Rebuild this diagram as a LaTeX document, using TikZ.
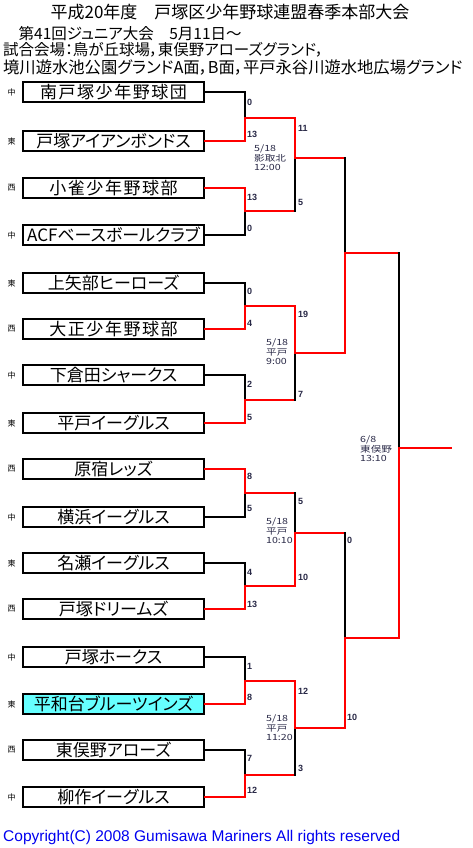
\documentclass[tikz,border=0pt]{standalone}
\usepackage{graphicx}
\usepackage{fontspec}
\setmainfont{Liberation Sans}
\newfontfamily\jp[RawFeature=+palt]{Noto Sans CJK JP}
\newfontfamily\jpw[RawFeature=+palt,LetterSpace=9]{Noto Sans CJK JP}
\newfontfamily\jpm{Noto Sans CJK JP}
\newfontfamily\arial{Liberation Sans}
\definecolor{scorecol}{RGB}{40,40,70}
\definecolor{tcyan}{RGB}{102,255,255}
\definecolor{copyblue}{RGB}{0,0,240}
\newcommand\infotext[3]{\scalebox{1.25}[1]{\begin{tabular}{@{}l@{}}#1\\#2\\#3\end{tabular}}}
\begin{document}
\begin{tikzpicture}[x=1pt,y=-1pt,
  team/.style={draw=black,line width=1.8pt,fill=white,minimum width=181pt,minimum height=20pt,inner sep=0pt,font=\jp\fontsize{17}{17}\selectfont},
  wide/.style={font=\jpw\fontsize{17}{17}\selectfont},
  side/.style={font=\jpm\fontsize{8}{8}\selectfont,inner sep=0pt},
  score/.style={font=\arial\bfseries\fontsize{9}{9}\selectfont,text=scorecol,anchor=west,inner sep=0pt},
  info/.style={font=\jpm\fontsize{8.5}{9}\selectfont,text=scorecol,anchor=west,inner sep=0pt},
  head/.style={font=\jp\fontsize{15.5}{15.5}\selectfont,anchor=west,inner sep=0pt},
  lose/.style={draw=black,line width=2pt,line cap=rect},
  win/.style={draw=red,line width=2pt,line cap=rect},
]
\useasboundingbox[fill=white] (0,0) rectangle (472,848);

% header
\node[font=\jp\fontsize{17}{17}\selectfont,inner sep=0pt] (title) at (230,12) {平成20年度　戸塚区少年野球連盟春季本部大会};
\node[head] (h2) at (3,34) {　第41回ジュニア大会　5月11日～};
\node[head] (h3) at (3,50) {試合会場：鳥が丘球場，東俣野アローズグランド，};
\node[head,font=\jp\fontsize{16.3}{16.3}\selectfont] (h4) at (3,67) {境川遊水池公園グランドA面，B面，平戸永谷川遊水地広場グランド};

% teams
\node[team,wide] (b1) at (113.5,92) {南戸塚少年野球団};
\node[team] (b2) at (113.5,141) {戸塚アイアンボンドス};
\node[team,wide] (b3) at (113.5,188) {小雀少年野球部};
\node[team] (b4) at (113.5,235) {ACFベースボールクラブ};
\node[team] (b5) at (113.5,283) {上矢部ヒーローズ};
\node[team,wide] (b6) at (113.5,329) {大正少年野球部};
\node[team] (b7) at (113.5,375) {下倉田シャークス};
\node[team] (b8) at (113.5,423) {平戸イーグルス};
\node[team] (b9) at (113.5,469) {原宿レッズ};
\node[team] (b10) at (113.5,517) {横浜イーグルス};
\node[team] (b11) at (113.5,563) {名瀬イーグルス};
\node[team] (b12) at (113.5,609) {戸塚ドリームズ};
\node[team] (b13) at (113.5,657) {戸塚ホークス};
\node[team,fill=tcyan] (b14) at (113.5,704) {平和台ブルーツインズ};
\node[team] (b15) at (113.5,750) {東俣野アローズ};
\node[team] (b16) at (113.5,797) {柳作イーグルス};

% districts
\node[side] (d1) at (11.5,92) {中};
\node[side] (d2) at (11.5,141) {東};
\node[side] (d3) at (11.5,188) {西};
\node[side] (d4) at (11.5,235) {中};
\node[side] (d5) at (11.5,283) {東};
\node[side] (d6) at (11.5,329) {西};
\node[side] (d7) at (11.5,375) {中};
\node[side] (d8) at (11.5,423) {東};
\node[side] (d9) at (11.5,469) {西};
\node[side] (d10) at (11.5,517) {中};
\node[side] (d11) at (11.5,563) {東};
\node[side] (d12) at (11.5,609) {西};
\node[side] (d13) at (11.5,657) {中};
\node[side] (d14) at (11.5,704) {東};
\node[side] (d15) at (11.5,750) {西};
\node[side] (d16) at (11.5,797) {中};

% joins
\coordinate (m1) at (245,118);
\coordinate (m2) at (245,211);
\coordinate (m3) at (245,306);
\coordinate (m4) at (245,400);
\coordinate (m5) at (245,493);
\coordinate (m6) at (245,586);
\coordinate (m7) at (245,681);
\coordinate (m8) at (245,775);
\coordinate (q1) at (295,158);
\coordinate (q2) at (295,353);
\coordinate (q3) at (295,533);
\coordinate (q4) at (295,728);
\coordinate (s1) at (345,253);
\coordinate (s2) at (345,638);
\coordinate (f) at (399,448);
\coordinate (fe) at (451,448);

% round 1 losers
\draw[lose] (b1.east) -| (m1);
\draw[lose] (b4.east) -| (m2);
\draw[lose] (b5.east) -| (m3);
\draw[lose] (b7.east) -| (m4);
\draw[lose] (b10.east) -| (m5);
\draw[lose] (b11.east) -| (m6);
\draw[lose] (b13.east) -| (m7);
\draw[lose] (b15.east) -| (m8);
% round 1 winners
\draw[win] (b2.east) -| (m1);
\draw[win] (b3.east) -| (m2);
\draw[win] (b6.east) -| (m3);
\draw[win] (b8.east) -| (m4);
\draw[win] (b9.east) -| (m5);
\draw[win] (b12.east) -| (m6);
\draw[win] (b14.east) -| (m7);
\draw[win] (b16.east) -| (m8);

% quarter finals
\draw[win] (m2) -- (m2 -| q1);  \draw[lose] (m2 -| q1) -- (q1);
\draw[win] (m4) -- (m4 -| q2);  \draw[lose] (m4 -| q2) -- (q2);
\draw[win] (m5) -- (m5 -| q3);  \draw[lose] (m5 -| q3) -- (q3);
\draw[win] (m8) -- (m8 -| q4);  \draw[lose] (m8 -| q4) -- (q4);
\draw[win] (m1) -| (q1);
\draw[win] (m3) -| (q2);
\draw[win] (m6) -| (q3);
\draw[win] (m7) -| (q4);

% semi finals
\draw[win] (q1) -- (q1 -| s1);  \draw[lose] (q1 -| s1) -- (s1);
\draw[win] (q3) -- (q3 -| s2);  \draw[lose] (q3 -| s2) -- (s2);
\draw[win] (q2) -| (s1);
\draw[win] (q4) -| (s2);

% final
\draw[win] (s1) -- (s1 -| f);  \draw[lose] (s1 -| f) -- (f);
\draw[win] (s2) -| (f);
\draw[win] (f) -- (fe);

% scores round 1
\node[score] (r1a) at (247,102) {0};
\node[score] (r1b) at (247,134) {13};
\node[score] (r2a) at (247,197) {13};
\node[score] (r2b) at (247,228) {0};
\node[score] (r3a) at (247,291) {0};
\node[score] (r3b) at (247,323) {4};
\node[score] (r4a) at (247,384) {2};
\node[score] (r4b) at (247,417) {5};
\node[score] (r5a) at (247,476) {8};
\node[score] (r5b) at (247,508) {5};
\node[score] (r6a) at (247,572) {4};
\node[score] (r6b) at (247,604) {13};
\node[score] (r7a) at (247,666) {1};
\node[score] (r7b) at (247,697) {8};
\node[score] (r8a) at (247,758) {7};
\node[score] (r8b) at (247,790) {12};
% scores quarter finals
\node[score] (qa1) at (298,128) {11};
\node[score] (qb1) at (298,202) {5};
\node[score] (qa2) at (298,314) {19};
\node[score] (qb2) at (298,394) {7};
\node[score] (qa3) at (298,501) {5};
\node[score] (qb3) at (298,577) {10};
\node[score] (qa4) at (298,691) {12};
\node[score] (qb4) at (298,768) {3};
% scores semi final
\node[score] (sa2) at (347,540) {0};
\node[score] (sb2) at (347,717) {10};

% match info
\node[info] (i1) at (254,159) {\infotext{5/18}{影取北}{12:00}};
\node[info] (i2) at (266,353) {\infotext{5/18}{平戸}{9:00}};
\node[info] (i3) at (266,532) {\infotext{5/18}{平戸}{10:10}};
\node[info] (i4) at (266,729) {\infotext{5/18}{平戸}{11:20}};
\node[info] (i5) at (360,450) {\infotext{6/8}{東俣野}{13:10}};

% copyright
\node[font=\arial\fontsize{15.5}{15.5}\selectfont,text=copyblue,anchor=west,inner sep=0pt] (copy) at (3,837) {Copyright(C) 2008 Gumisawa Mariners All rights reserved};
\end{tikzpicture}
\end{document}
